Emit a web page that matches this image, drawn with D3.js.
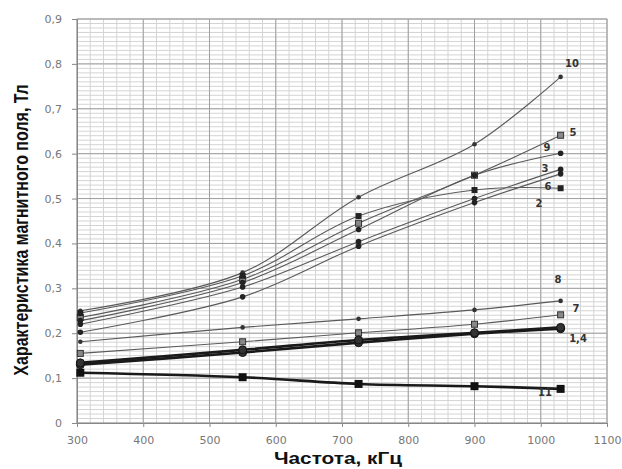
<!DOCTYPE html>
<html><head><meta charset="utf-8">
<script src="https://cdn.jsdelivr.net/npm/d3@7"></script>
<style>body{margin:0;background:#fff}svg{display:block}</style>
</head><body>
<svg id="c" width="622" height="469"></svg>
<script>
// ---- data ----
const freq = [305, 550, 725, 900, 1030];
const s10 = [0.250, 0.335, 0.503, 0.621, 0.771];
const s6  = [0.245, 0.328, 0.461, 0.519, 0.523];
const s5  = [0.235, 0.320, 0.445, 0.552, 0.641];
const s9  = [0.228, 0.313, 0.431, 0.552, 0.601];
const s3  = [0.220, 0.303, 0.404, 0.500, 0.565];
const s2  = [0.202, 0.281, 0.394, 0.491, 0.555];
const s8  = [0.181, 0.213, 0.232, 0.252, 0.272];
const s7  = [0.155, 0.181, 0.201, 0.220, 0.241];
const s1  = [0.134, 0.163, 0.185, 0.201, 0.213];
const s4  = [0.130, 0.157, 0.179, 0.199, 0.210];
const s11 = [0.112, 0.102, 0.087, 0.082, 0.076];
const xTicks = [300, 400, 500, 600, 700, 800, 900, 1000, 1100];
const yTicks = [0, 0.1, 0.2, 0.3, 0.4, 0.5, 0.6, 0.7, 0.8, 0.9];
const xTitle = "Частота, кГц";
const yTitle = "Характеристика магнитного поля, Тл";

const series = [
  {name:"10", v:s10, marker:"dot",  thick:false, lx:572, ly:63},
  {name:"5",  v:s5,  marker:"osq",  thick:false, lx:573, ly:132},
  {name:"9",  v:s9,  marker:"dot2", thick:false, lx:547, ly:147},
  {name:"3",  v:s3,  marker:"dot2", thick:false, lx:545, ly:168},
  {name:"6",  v:s6,  marker:"sq",   thick:false, lx:548, ly:186},
  {name:"2",  v:s2,  marker:"dot2", thick:false, lx:539, ly:203},
  {name:"8",  v:s8,  marker:"dot",  thick:false, lx:558, ly:279},
  {name:"7",  v:s7,  marker:"osq",  thick:false, lx:576, ly:308},
  {name:"",   v:s4,  marker:"circ", thick:true,  lx:0, ly:0},
  {name:"1,4",v:s1,  marker:"circ", thick:true,  lx:578, ly:338},
  {name:"11", v:s11, marker:"bsq",  thick:true,  lx:545, ly:392}
];

const svg = d3.select("#c");
const L = 77, R = 607, T = 19, B = 423;
const x = d3.scaleLinear().domain([300, 1100]).range([L, R]);
const y = d3.scaleLinear().domain([0, 0.9]).range([B, T]);

// minor grid
const g = svg.append("g");
g.selectAll("line.mx").data(d3.range(300, 1101, 20)).enter().append("line")
  .attr("x1", d => x(d)).attr("x2", d => x(d)).attr("y1", T).attr("y2", B)
  .attr("stroke", "#d4d4d4").attr("stroke-width", 1);
g.selectAll("line.my").data(d3.range(0, 91, 1).map(d => d / 100)).enter().append("line")
  .attr("y1", d => y(d)).attr("y2", d => y(d)).attr("x1", L).attr("x2", R)
  .attr("stroke", "#d4d4d4").attr("stroke-width", 1);
// major grid
g.selectAll("line.Mx").data(xTicks).enter().append("line")
  .attr("x1", d => x(d)).attr("x2", d => x(d)).attr("y1", T).attr("y2", B)
  .attr("stroke", "#a0a0a0").attr("stroke-width", 1);
g.selectAll("line.My").data(yTicks).enter().append("line")
  .attr("y1", d => y(d)).attr("y2", d => y(d)).attr("x1", L).attr("x2", R)
  .attr("stroke", "#a0a0a0").attr("stroke-width", 1);
svg.append("rect").attr("x", L).attr("y", T).attr("width", R - L).attr("height", B - T)
  .attr("fill", "none").attr("stroke", "#b0b0b0");

// axes
const fmt = d => d === 0 ? "0" : d3.format(".1f")(d).replace(".", ",");
const ax = svg.append("g").attr("transform", `translate(0,${B})`)
  .call(d3.axisBottom(x).tickValues(xTicks).tickSize(4).tickPadding(9).tickFormat(d3.format("d")));
const ay = svg.append("g").attr("transform", `translate(${L},0)`)
  .call(d3.axisLeft(y).tickValues(yTicks).tickSize(5).tickPadding(10).tickFormat(fmt));
[ax, ay].forEach(a => {
  a.select(".domain").attr("stroke", "#888");
  a.selectAll(".tick line").attr("stroke", "#888");
  a.selectAll("text").attr("fill", "#777").attr("font-family", "DejaVu Sans").attr("font-size", 11);
});

// lines
const line = d3.line().x((d, i) => x(freq[i])).y(d => y(d)).curve(d3.curveCatmullRom.alpha(0.5));
series.forEach(s => {
  svg.append("path").datum(s.v).attr("d", line).attr("fill", "none")
    .attr("stroke", s.thick ? "#1a1a1a" : "#5a5a5a").attr("stroke-width", s.thick ? 2.6 : 1.1);
});
// markers
series.forEach(s => {
  const m = svg.append("g");
  s.v.forEach((v, i) => {
    const cx = x(freq[i]), cy = y(v);
    if (s.marker === "dot") m.append("circle").attr("cx", cx).attr("cy", cy).attr("r", 2.3).attr("fill", "#333");
    else if (s.marker === "dot2") m.append("circle").attr("cx", cx).attr("cy", cy).attr("r", 2.8).attr("fill", "#222");
    else if (s.marker === "circ") m.append("circle").attr("cx", cx).attr("cy", cy).attr("r", 4).attr("fill", "#333").attr("stroke", "#111").attr("stroke-width", 1);
    else if (s.marker === "osq") m.append("rect").attr("x", cx - 3).attr("y", cy - 3).attr("width", 6).attr("height", 6).attr("fill", "#888").attr("stroke", "#333").attr("stroke-width", 1);
    else if (s.marker === "sq") m.append("rect").attr("x", cx - 3).attr("y", cy - 3).attr("width", 6).attr("height", 6).attr("fill", "#222");
    else if (s.marker === "bsq") m.append("rect").attr("x", cx - 4).attr("y", cy - 4).attr("width", 8).attr("height", 8).attr("fill", "#111");
  });
  if (s.name) svg.append("text").attr("x", s.lx).attr("y", s.ly).attr("dy", "0.35em")
    .attr("text-anchor", "middle").attr("font-family", "DejaVu Sans").attr("font-size", 10)
    .attr("font-weight", "bold").attr("fill", "#333").text(s.name);
});

// titles
svg.append("text").attr("transform", "translate(338,464) scale(1.3,1)").attr("text-anchor", "middle")
  .attr("font-family", "Liberation Sans").attr("font-weight", "bold").attr("font-size", 16)
  .attr("fill", "#111").text(xTitle);
svg.append("text").attr("transform", "translate(28,230) scale(1.3,1) rotate(-90)").attr("text-anchor", "middle")
  .attr("font-family", "Liberation Sans").attr("font-weight", "bold").attr("font-size", 16)
  .attr("fill", "#111").text(yTitle);
</script>
</body></html>
